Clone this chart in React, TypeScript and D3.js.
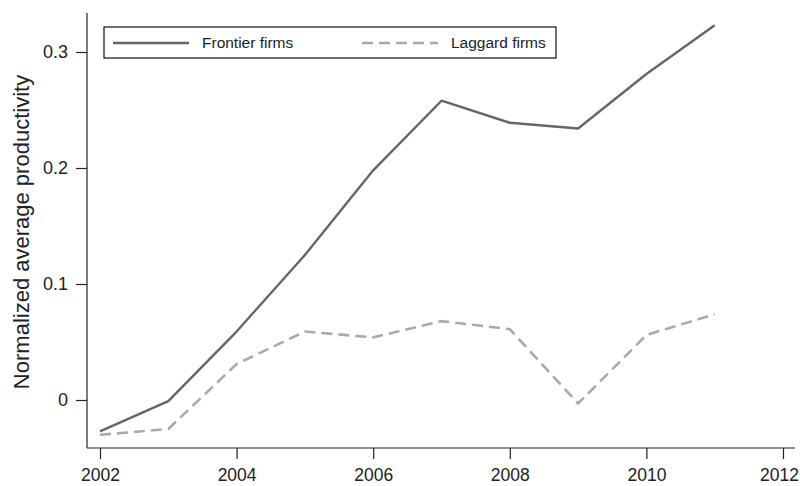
import React, { useRef, useEffect } from "react";
import * as d3 from "d3";

const years = [2002, 2003, 2004, 2005, 2006, 2007, 2008, 2009, 2010, 2011];
const frontier = [-0.027, -0.001, 0.059, 0.125, 0.198, 0.258, 0.239, 0.234, 0.281, 0.323];
const laggard = [-0.030, -0.025, 0.031, 0.059, 0.054, 0.068, 0.061, -0.003, 0.056, 0.074];
const xTicks = [2002, 2004, 2006, 2008, 2010, 2012];
const yTicks = [0, 0.1, 0.2, 0.3];

const seriesNames = ["Frontier firms", "Laggard firms"];

const W = 800;
const H = 486;
const FONT = "'Liberation Sans', Arial, Helvetica, sans-serif";

const App: React.FC = () => {
  const svgRef = useRef<SVGSVGElement | null>(null);

  useEffect(() => {
    const svg = d3.select(svgRef.current);
    svg.selectAll("*").remove();

    // plot frame
    const left = 87;
    const right = 795;
    const top = 13;
    const bottom = 448;

    const x = d3.scaleLinear().domain([2002, 2012]).range([100, 783]);
    const y = d3.scaleLinear().domain([0, 0.3]).range([400, 52]);

    const axisColor = "#222";

    // x axis
    const gx = svg
      .append("g")
      .attr("transform", `translate(0,${bottom})`)
      .call(
        d3
          .axisBottom(x)
          .tickValues(xTicks)
          .tickSize(11)
          .tickPadding(10)
          .tickFormat(d3.format("d"))
      );
    gx.select(".domain").remove();
    gx.selectAll("line").attr("stroke", axisColor).attr("stroke-width", 1.2);
    gx.selectAll("text")
      .attr("fill", "#222")
      .style("font-family", FONT)
      .style("font-size", "17.5px");
    // last label sits a bit inside so it stays on the page
    gx.selectAll<SVGTextElement, number>("text")
      .filter((d) => d === 2012)
      .attr("dx", -4);
    svg
      .append("line")
      .attr("x1", left)
      .attr("x2", right)
      .attr("y1", bottom)
      .attr("y2", bottom)
      .attr("stroke", axisColor)
      .attr("stroke-width", 1.2);

    // y axis
    const gy = svg
      .append("g")
      .attr("transform", `translate(${left},0)`)
      .call(
        d3
          .axisLeft(y)
          .tickValues(yTicks)
          .tickSize(11)
          .tickPadding(8)
          .tickFormat((d) => (d === 0 ? "0" : d3.format(".1f")(d as number)))
      );
    gy.select(".domain").remove();
    gy.selectAll("line").attr("stroke", axisColor).attr("stroke-width", 1.2);
    gy.selectAll("text")
      .attr("fill", "#222")
      .style("font-family", FONT)
      .style("font-size", "18px");
    svg
      .append("line")
      .attr("x1", left)
      .attr("x2", left)
      .attr("y1", top)
      .attr("y2", bottom)
      .attr("stroke", axisColor)
      .attr("stroke-width", 1.2);

    // y axis title
    svg
      .append("text")
      .attr("transform", `translate(28.5,232) rotate(-90)`)
      .attr("text-anchor", "middle")
      .attr("fill", "#222")
      .style("font-family", FONT)
      .style("font-size", "22px")
      .text("Normalized average productivity");

    const line = d3
      .line<number>()
      .x((_, i) => x(years[i]))
      .y((d) => y(d));

    svg
      .append("path")
      .datum(laggard)
      .attr("fill", "none")
      .attr("stroke", "#aaaaaa")
      .attr("stroke-width", 2.6)
      .attr("stroke-dasharray", "11,6")
      .attr("d", line);

    svg
      .append("path")
      .datum(frontier)
      .attr("fill", "none")
      .attr("stroke", "#666666")
      .attr("stroke-width", 2.4)
      .attr("stroke-linejoin", "round")
      .attr("d", line);

    // legend
    const lg = svg.append("g");
    lg.append("rect")
      .attr("x", 104)
      .attr("y", 27)
      .attr("width", 452)
      .attr("height", 31)
      .attr("fill", "white")
      .attr("stroke", "#111")
      .attr("stroke-width", 1.2);

    const entries = [
      { name: seriesNames[0], x0: 113, color: "#666666", dash: null, w: 2.4 },
      { name: seriesNames[1], x0: 362, color: "#aaaaaa", dash: "11,6", w: 2.6 },
    ];
    entries.forEach((e) => {
      lg.append("line")
        .attr("x1", e.x0)
        .attr("x2", e.x0 + 76)
        .attr("y1", 43)
        .attr("y2", 43)
        .attr("stroke", e.color)
        .attr("stroke-width", e.w)
        .attr("stroke-dasharray", e.dash);
      lg.append("text")
        .attr("x", e.x0 + 89)
        .attr("y", 43)
        .attr("dy", "0.35em")
        .attr("fill", "#222")
        .style("font-family", FONT)
        .style("font-size", "15.5px")
        .text(e.name);
    });
  }, []);

  return (
    <svg
      ref={svgRef}
      width={W}
      height={H}
      style={{ position: "absolute", left: 0, top: 0, background: "white" }}
    />
  );
};

export default App;
